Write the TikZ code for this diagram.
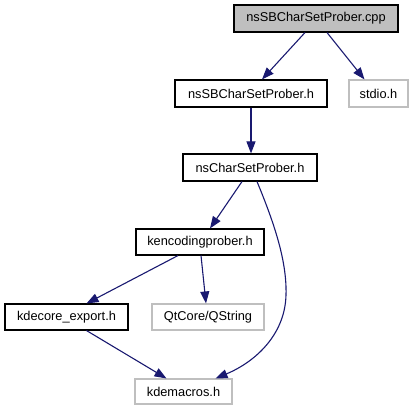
\documentclass[tikz,border=0pt]{standalone}
\usepackage{fontspec}
\setmainfont{Liberation Sans}
\usetikzlibrary{arrows.meta}
\definecolor{edgec}{HTML}{191970}
\definecolor{grayb}{HTML}{BFBFBF}
\tikzset{
  box/.style={draw=black, line width=1.1pt, inner sep=0pt, font=\fontsize{12.8}{14}\selectfont},
  gbox/.style={box, draw=grayb},
  edge/.style={draw=edgec, line width=1.1pt, -{Triangle[length=12pt,width=9pt]}}
}
\begin{document}
\begin{tikzpicture}[x=1pt,y=-1pt]
\useasboundingbox (0,0) rectangle (417,411);
\node[box, fill=grayb, minimum width=164pt, minimum height=27pt] (cpp) at (316,18.5) {nsSBCharSetProber.cpp};
\node[box, minimum width=152pt, minimum height=27pt] (sbh) at (251,93.5) {nsSBCharSetProber.h};
\node[gbox, minimum width=59pt, minimum height=27pt] (stdio) at (378.5,93.5) {stdio.h};
\node[box, minimum width=134pt, minimum height=27pt] (ncs) at (250,167.5) {nsCharSetProber.h};
\node[box, minimum width=128pt, minimum height=26pt] (kenc) at (200,242) {kencodingprober.h};
\node[box, minimum width=123pt, minimum height=26pt] (kexp) at (66.5,317) {kdecore\_export.h};
\node[gbox, minimum width=112pt, minimum height=26pt] (qstr) at (208,317) {QtCore/QString};
\node[gbox, minimum width=97pt, minimum height=25pt] (kmac) at (183.5,391.5) {kdemacros.h};

\draw[edge] ([xshift=-11pt]cpp.south) -- ([xshift=11pt]sbh.north);
\draw[edge] ([xshift=11pt]cpp.south) -- ([xshift=-14pt]stdio.north);
\draw[edge] (sbh.south) -- ([xshift=1pt]ncs.north);
\draw[edge] ([xshift=-8pt]ncs.south) -- ([xshift=10pt]kenc.north);
\draw[edge] ([xshift=7pt]ncs.south) .. controls (275,225) and (287,262) .. (286,295)
  .. controls (285,335) and (255,362) .. ([xshift=32pt]kmac.north);
\draw[edge] ([xshift=-22pt]kenc.south) -- ([xshift=20pt]kexp.north);
\draw[edge] ([xshift=1pt]kenc.south) -- ([xshift=-2pt]qstr.north);
\draw[edge] ([xshift=20pt]kexp.south) -- ([xshift=-17pt]kmac.north);
\end{tikzpicture}
\end{document}
